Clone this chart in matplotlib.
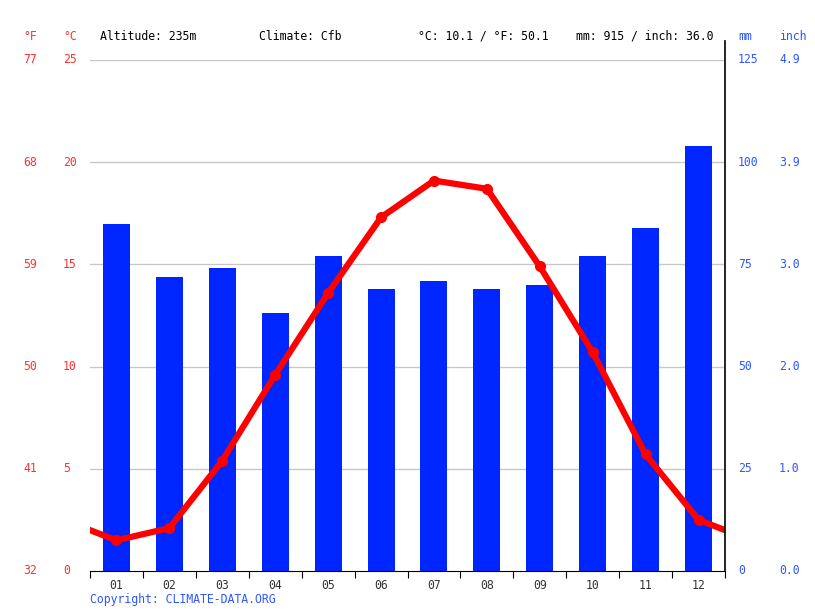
import matplotlib
matplotlib.use("Agg")
import matplotlib.pyplot as plt
from matplotlib.transforms import blended_transform_factory
from matplotlib.lines import Line2D

months = ["01", "02", "03", "04", "05", "06", "07", "08", "09", "10", "11", "12"]
precip_mm = [85, 72, 74, 63, 77, 69, 71, 69, 70, 77, 84, 104]
temp_c = [1.5, 2.1, 5.4, 9.6, 13.6, 17.3, 19.1, 18.7, 14.9, 10.7, 5.7, 2.5]
c_ticks = [0, 5, 10, 15, 20, 25]
f_labels = ["32", "41", "50", "59", "68", "77"]
mm_ticks = [0, 25, 50, 75, 100, 125]
inch_labels = ["0.0", "1.0", "2.0", "3.0", "3.9", "4.9"]

RED = "#ff0000"
RED_TXT = "#ff3030"
BLUE = "#0026ff"
BLUE_TXT = "#2f57ff"
FONT = "DejaVu Sans Mono"
FS = 8.3

fig = plt.figure(figsize=(8.15, 6.11), dpi=100)
ax = fig.add_axes([90 / 815, 40 / 611, 635 / 815, 511 / 611])
ax2 = ax.twinx()

x = list(range(1, 13))
ax.bar(x, precip_mm, width=0.51, color=BLUE, zorder=2)
ax.set_ylim(0, 125)
ax.set_xlim(0.5, 12.5)

# temperature line, wrapped around the year at both edges
ax2.plot([0] + x + [13], [temp_c[-1]] + temp_c + [temp_c[0]], color=RED, lw=4.5,
         solid_capstyle="butt", zorder=3)
ax2.plot(x, temp_c, "o", color=RED, ms=7, zorder=4)
ax2.set_ylim(0, 25)

for t in c_ticks[1:]:
    ax.axhline(t * 5, color="#c8c8c8", lw=1, zorder=1)

for a in (ax, ax2):
    a.set_yticks([])
    for s in ("left", "top", "right"):
        a.spines[s].set_visible(False)
ax2.spines["bottom"].set_visible(False)
ax.spines["bottom"].set_color("black")

ax.set_xticks([i + 0.5 for i in range(0, 13)])
ax.set_xticklabels([])
ax.tick_params(axis="x", which="major", length=5, color="black", direction="out")
ax.set_xticks(x, minor=True)
ax.set_xticklabels(months, minor=True, fontfamily=FONT, fontsize=FS, color="#333333")
ax.tick_params(axis="x", which="minor", length=0, pad=6)

# right axis line extending above the plot
fig.add_artist(Line2D([725 / 815, 725 / 815], [40 / 611, 570 / 611], color="black", lw=1.2))

tr = blended_transform_factory(fig.transFigure, ax2.transData)
for c, f in zip(c_ticks, f_labels):
    fig.text(23 / 815, c, f, transform=tr, color=RED_TXT, fontfamily=FONT, fontsize=FS, va="center")
    fig.text(63 / 815, c, str(c), transform=tr, color=RED_TXT, fontfamily=FONT, fontsize=FS, va="center")
tr2 = blended_transform_factory(fig.transFigure, ax.transData)
for m, i in zip(mm_ticks, inch_labels):
    fig.text(738 / 815, m, str(m), transform=tr2, color=BLUE_TXT, fontfamily=FONT, fontsize=FS, va="center")
    fig.text(779 / 815, m, i, transform=tr2, color=BLUE_TXT, fontfamily=FONT, fontsize=FS, va="center")

yh = 1 - 36 / 611
fig.text(23 / 815, yh, "°F", color=RED_TXT, fontfamily=FONT, fontsize=FS, va="center")
fig.text(63 / 815, yh, "°C", color=RED_TXT, fontfamily=FONT, fontsize=FS, va="center")
fig.text(100 / 815, yh, "Altitude: 235m", color="black", fontfamily=FONT, fontsize=FS, va="center")
fig.text(259 / 815, yh, "Climate: Cfb", color="black", fontfamily=FONT, fontsize=FS, va="center")
fig.text(418 / 815, yh, "°C: 10.1 / °F: 50.1", color="black", fontfamily=FONT, fontsize=FS, va="center")
fig.text(576 / 815, yh, "mm: 915 / inch: 36.0", color="black", fontfamily=FONT, fontsize=FS, va="center")
fig.text(738 / 815, yh, "mm", color=BLUE_TXT, fontfamily=FONT, fontsize=FS, va="center")
fig.text(779 / 815, yh, "inch", color=BLUE_TXT, fontfamily=FONT, fontsize=FS, va="center")
fig.text(90 / 815, 1 - 599 / 611, "Copyright: CLIMATE-DATA.ORG", color=BLUE_TXT,
         fontfamily=FONT, fontsize=FS, va="center")

fig.savefig("out.png", dpi=100)
